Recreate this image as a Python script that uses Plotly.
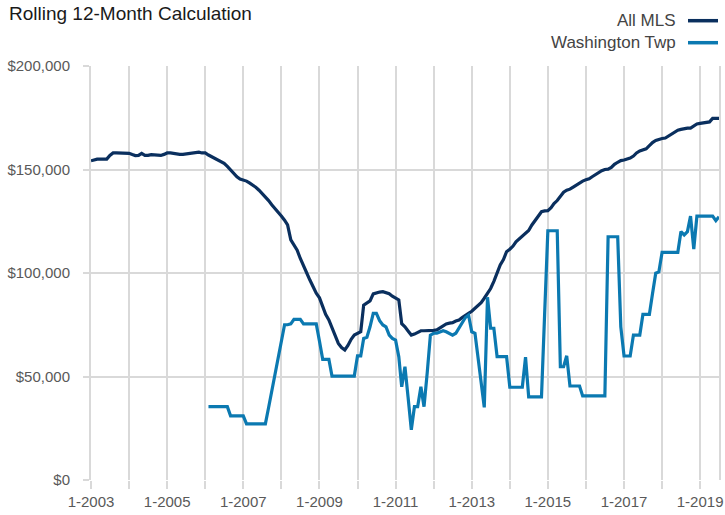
import pandas as pd
import plotly.graph_objects as go

# ---- data (values in $ thousands, monthly) ----
start_month = "2003-01-01"

mls_2003 = [154.2, 154.7, 155, 155, 155, 155, 156.8, 158, 158, 158, 158, 158]
mls_2004 = [157.8, 157.2, 156.7, 156.8, 157.8, 156.8, 156.8, 157.2, 157, 156.7, 156.8, 157.3]
mls_2005 = [158, 158, 157.8, 157.3, 157.3, 157.3, 157.5, 158, 158.2, 158.2, 158.4, 158]
mls_2006 = [158, 157, 156.2, 155.4, 154.5, 153.8, 153, 151.5, 149.8, 148, 146.5, 145.4]
mls_2007 = [145, 144.4, 143.5, 142.5, 141.4, 140, 138.5, 136.9, 135, 133, 131.3, 129.6]
mls_2008 = [127.5, 125.5, 123.2, 116, 113.5, 111, 107, 103, 100, 96.6, 93.5, 90.2]
mls_2009 = [88, 84, 80, 77.3, 73.5, 70, 66, 64, 62.8, 65, 68, 70]
mls_2010 = [70.8, 71.6, 84.5, 85.5, 86.5, 89.9, 90.5, 90.8, 91, 90.5, 90, 88.8]
mls_2011 = [87.8, 87, 75.5, 74, 72, 70, 70.5, 71.5, 72.1, 72.1, 72.1, 72.1]
mls_2012 = [72.3, 72.5, 73.5, 74.5, 75.4, 75.8, 76, 76.8, 77.3, 78.5, 79.7, 80.5]
mls_2013 = [81.5, 82.9, 84, 85.7, 87.8, 90, 92.5, 96, 100.5, 103.9, 106.5, 110.3]
mls_2014 = [111.5, 113, 115.1, 116.5, 117.5, 119, 120.5, 123.2, 125.5, 127.5, 129.6, 130]
mls_2015 = [130.1, 131.5, 133.5, 135, 137, 139, 140, 140.5, 141.5, 142.5, 143.5, 144.4]
mls_2016 = [145, 145.5, 146.5, 147.5, 148.5, 149.4, 150, 150.2, 151, 152.5, 153.5, 154.3]
mls_2017 = [154.6, 155, 155.5, 156.5, 158, 159, 159.4, 160, 161.5, 163, 164, 164.6]
mls_2018 = [165, 165.2, 166, 167, 168, 169, 169.4, 169.8, 170, 170, 171, 172]
mls_2019 = [172.3, 172.5, 173, 173, 174.7, 174.7, 174.7]

wash_2003 = [None] * 12
wash_2004 = [None] * 12
wash_2005 = [None] * 12
wash_2006 = [None, 35.4, 35.4, 35.4, 35.4, 35.4, 35.4, 35.4, 31, 31, 31, 31]
wash_2007 = [31, 27.1, 27.1, 27.1, 27.1, 27.1, 27.1, 27.1, 35, 43, 51, 59]
wash_2008 = [67, 75, 75, 75.4, 77.6, 77.6, 77.6, 75.4, 75.4, 75.4, 75.4, 75.4]
wash_2009 = [67, 58.3, 58.3, 58.3, 50.2, 50.2, 50.2, 50.2, 50.2, 50.2, 50.2, 50.2]
wash_2010 = [60, 60, 68.4, 69, 74, 80.5, 80.5, 77, 74.9, 74, 70, 68.4]
wash_2011 = [67.6, 59.6, 45, 54.7, 40, 24.2, 35.4, 35.4, 45, 35.4, 52, 70]
wash_2012 = [70.9, 70.9, 71.5, 72.1, 71.6, 70.9, 70, 70.9, 73.3, 75.7, 78.5, 79.7]
wash_2013 = [71.6, 70.9, 59, 47, 35.1, 88.3, 73.3, 73.3, 59.6, 59.6, 59.6, 59.6]
wash_2014 = [44.8, 44.8, 44.8, 44.8, 44.8, 59.3, 40.2, 40.2, 40.2, 40.2, 40.2, 80]
wash_2015 = [120.4, 120.4, 120.4, 120.4, 54.7, 54.7, 60, 45.4, 45.4, 45.4, 45.4, 40.6]
wash_2016 = [40.6, 40.6, 40.6, 40.6, 40.6, 40.6, 40.6, 117.5, 117.5, 117.5, 117.5, 74]
wash_2017 = [59.9, 59.9, 59.9, 70, 70, 70, 80, 80, 80, 90, 99.9, 100.5]
wash_2018 = [110, 110, 110, 110, 110, 110, 120, 118.4, 120, 127.5, 111.5, 127.5]
wash_2019 = [127.5, 127.5, 127.5, 127.5, 127.5, 125.3, 127.2]

series_names = ["All MLS", "Washington Twp"]

mls = (mls_2003 + mls_2004 + mls_2005 + mls_2006 + mls_2007 + mls_2008 + mls_2009 +
       mls_2010 + mls_2011 + mls_2012 + mls_2013 + mls_2014 + mls_2015 + mls_2016 +
       mls_2017 + mls_2018 + mls_2019)
wash = (wash_2003 + wash_2004 + wash_2005 + wash_2006 + wash_2007 + wash_2008 + wash_2009 +
        wash_2010 + wash_2011 + wash_2012 + wash_2013 + wash_2014 + wash_2015 + wash_2016 +
        wash_2017 + wash_2018 + wash_2019)

months = pd.date_range(start_month, periods=len(mls), freq="MS")
mls_usd = [v * 1000 for v in mls]
wash_usd = [None if v is None else v * 1000 for v in wash]

# ---- style ----
NAVY = "#0a2f5e"
BLUE = "#0b79b1"
GRID = "#d9d9d9"
FONT = "Liberation Sans, Arial, Helvetica, sans-serif"

W, H = 725, 515
ML, MR, MT, MB = 91, 6, 66, 35
PW, PH = W - ML - MR, H - MT - MB

def px_x(p):
    return (p - ML) / PW

def px_y(p):
    return (H - MB - p) / PH

fig = go.Figure()
fig.add_trace(go.Scatter(x=months, y=mls_usd, mode="lines", name=series_names[0],
                         line=dict(color=NAVY, width=3.2), showlegend=False))
fig.add_trace(go.Scatter(x=months, y=wash_usd, mode="lines", name=series_names[1],
                         line=dict(color=BLUE, width=3.2), showlegend=False,
                         connectgaps=False))

# custom legend (text left of swatch)
legend_rows = [(series_names[0], NAVY, 20.7), (series_names[1], BLUE, 42.7)]
for name, col, py in legend_rows:
    fig.add_annotation(x=px_x(678), y=px_y(py), xref="paper", yref="paper",
                       text=name, showarrow=False, xanchor="right", yanchor="middle",
                       font=dict(family=FONT, size=17, color="#444444"))
    fig.add_shape(type="line", xref="paper", yref="paper",
                  x0=px_x(688), x1=px_x(718), y0=px_y(py), y1=px_y(py),
                  line=dict(color=col, width=3.5))

fig.update_layout(
    width=W, height=H,
    margin=dict(l=ML, r=MR, t=MT, b=MB, autoexpand=False),
    paper_bgcolor="white", plot_bgcolor="white",
    title=dict(text="Rolling 12-Month Calculation", x=9 / W, xref="container",
               xanchor="left", y=1 - 13 / H, yref="container", yanchor="middle",
               font=dict(family=FONT, size=19, color="#1a1a1a")),
    font=dict(family=FONT, size=15, color="#595959"),
)
fig.update_xaxes(
    type="date", range=["2003-01-01", "2019-07-01"], automargin=False,
    tick0="2003-01-01", dtick="M24", tickformat="%-m-%Y",
    ticks="outside", ticklen=8, tickwidth=2, tickcolor=GRID,
    showgrid=True, gridcolor=GRID, gridwidth=2,
    minor=dict(dtick="M12", tick0="2003-01-01", showgrid=True, gridcolor=GRID,
               gridwidth=2, ticks="outside", ticklen=8, tickwidth=2, tickcolor=GRID),
    showline=False, zeroline=False, ticklabelstandoff=0,
    tickfont=dict(family=FONT, size=15, color="#595959"),
)
fig.update_yaxes(
    range=[0, 200000], dtick=50000, tickformat="$,.0f", automargin=False,
    ticks="outside", ticklen=6, tickwidth=2, tickcolor=GRID,
    showgrid=True, gridcolor=GRID, gridwidth=2,
    showline=True, mirror=True, linecolor=GRID, linewidth=2,
    zeroline=False, ticklabelstandoff=10,
    tickfont=dict(family=FONT, size=15, color="#595959"),
)

# remove the browser's default 8px body margin so the figure fills the window
fig.write_html("out.html",
               config={"displayModeBar": False},
               post_script="document.body.style.margin='0';document.body.style.overflow='hidden';")
